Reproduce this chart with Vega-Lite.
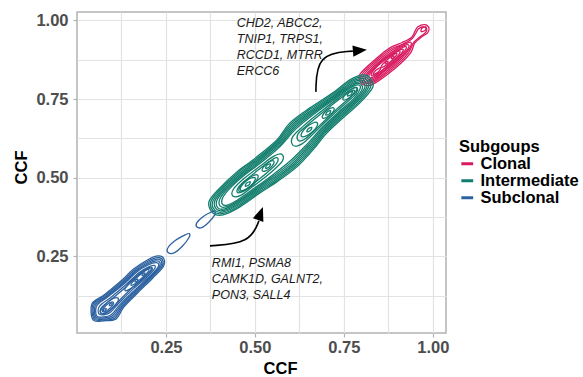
{
  "$schema": "https://vega.github.io/schema/vega-lite/v6.json",
  "width": 369,
  "height": 321,
  "autosize": {"type": "none"},
  "padding": {"left": 77, "top": 12, "right": 137, "bottom": 44},
  "background": "white",
  "config": {
    "view": {"stroke": "#B3B3B3", "strokeWidth": 1.5},
    "font": "Liberation Sans"
  },
  "datasets": {
    "pink": [
      {"c":"K1","x":0.800,"y":0.800},{"c":"K1","x":0.795,"y":0.829},{"c":"K1","x":0.847,"y":0.885},{"c":"K1","x":0.884,"y":0.916},{"c":"K1","x":0.914,"y":0.930},{"c":"K1","x":0.940,"y":0.946},{"c":"K1","x":0.950,"y":0.966},{"c":"K1","x":0.958,"y":0.980},{"c":"K1","x":0.977,"y":0.987},{"c":"K1","x":0.989,"y":0.977},{"c":"K1","x":0.9855,"y":0.9605},{"c":"K1","x":0.969,"y":0.948},{"c":"K1","x":0.9495,"y":0.9285},{"c":"K1","x":0.938,"y":0.898},{"c":"K1","x":0.911,"y":0.865},{"c":"K1","x":0.874,"y":0.830},{"c":"K1","x":0.836,"y":0.800},{"c":"K1","x":0.817,"y":0.793},
      {"c":"K2","x":0.805,"y":0.803},{"c":"K2","x":0.801,"y":0.829},{"c":"K2","x":0.850,"y":0.882},{"c":"K2","x":0.885,"y":0.911},{"c":"K2","x":0.913,"y":0.923},{"c":"K2","x":0.940,"y":0.940},{"c":"K2","x":0.953,"y":0.961},{"c":"K2","x":0.960,"y":0.974},{"c":"K2","x":0.974,"y":0.980},{"c":"K2","x":0.983,"y":0.973},{"c":"K2","x":0.979,"y":0.961},{"c":"K2","x":0.964,"y":0.948},{"c":"K2","x":0.946,"y":0.930},{"c":"K2","x":0.932,"y":0.898},{"c":"K2","x":0.906,"y":0.866},{"c":"K2","x":0.871,"y":0.833},{"c":"K2","x":0.835,"y":0.805},
      {"c":"K2b","x":0.810,"y":0.806},{"c":"K2b","x":0.807,"y":0.829},{"c":"K2b","x":0.853,"y":0.879},{"c":"K2b","x":0.887,"y":0.907},{"c":"K2b","x":0.917,"y":0.923},{"c":"K2b","x":0.937,"y":0.931},{"c":"K2b","x":0.938,"y":0.918},{"c":"K2b","x":0.927,"y":0.899},{"c":"K2b","x":0.902,"y":0.868},{"c":"K2b","x":0.868,"y":0.836},{"c":"K2b","x":0.835,"y":0.809},
      {"c":"K3","x":0.814,"y":0.810},{"c":"K3","x":0.813,"y":0.829},{"c":"K3","x":0.856,"y":0.876},{"c":"K3","x":0.889,"y":0.903},{"c":"K3","x":0.917,"y":0.919},{"c":"K3","x":0.931,"y":0.923},{"c":"K3","x":0.930,"y":0.910},{"c":"K3","x":0.900,"y":0.872},{"c":"K3","x":0.865,"y":0.839},{"c":"K3","x":0.835,"y":0.813},
      {"c":"K3b","x":0.818,"y":0.814},{"c":"K3b","x":0.819,"y":0.831},{"c":"K3b","x":0.858,"y":0.874},{"c":"K3b","x":0.890,"y":0.900},{"c":"K3b","x":0.913,"y":0.913},{"c":"K3b","x":0.925,"y":0.917},{"c":"K3b","x":0.921,"y":0.903},{"c":"K3b","x":0.897,"y":0.873},{"c":"K3b","x":0.863,"y":0.841},{"c":"K3b","x":0.836,"y":0.818},
      {"c":"K4","x":0.822,"y":0.818},{"c":"K4","x":0.824,"y":0.832},{"c":"K4","x":0.860,"y":0.872},{"c":"K4","x":0.891,"y":0.897},{"c":"K4","x":0.915,"y":0.909},{"c":"K4","x":0.913,"y":0.897},{"c":"K4","x":0.894,"y":0.874},{"c":"K4","x":0.861,"y":0.843},{"c":"K4","x":0.836,"y":0.822},
      {"c":"K5","x":0.828,"y":0.824},{"c":"K5","x":0.832,"y":0.840},{"c":"K5","x":0.861,"y":0.871},{"c":"K5","x":0.890,"y":0.894},{"c":"K5","x":0.907,"y":0.903},{"c":"K5","x":0.903,"y":0.889},{"c":"K5","x":0.878,"y":0.862},{"c":"K5","x":0.847,"y":0.833},
      {"c":"K6","x":0.855,"y":0.851},{"c":"K6","x":0.8588,"y":0.8604},{"c":"K6","x":0.873,"y":0.877},{"c":"K6","x":0.8896,"y":0.8912},{"c":"K6","x":0.899,"y":0.895},{"c":"K6","x":0.8952,"y":0.8856},{"c":"K6","x":0.881,"y":0.869},{"c":"K6","x":0.8644,"y":0.8548},
      {"c":"K6b","x":0.832,"y":0.828},{"c":"K6b","x":0.840,"y":0.842},{"c":"K6b","x":0.854,"y":0.850},{"c":"K6b","x":0.846,"y":0.836},
      {"c":"K7a","x":0.866,"y":0.862},{"c":"K7a","x":0.868,"y":0.868},{"c":"K7a","x":0.874,"y":0.870},{"c":"K7a","x":0.872,"y":0.864},
      {"c":"K7b","x":0.883,"y":0.879},{"c":"K7b","x":0.885,"y":0.885},{"c":"K7b","x":0.891,"y":0.887},{"c":"K7b","x":0.889,"y":0.881},
      {"c":"K8","x":0.967,"y":0.965},{"c":"K8","x":0.970,"y":0.976},{"c":"K8","x":0.981,"y":0.979},{"c":"K8","x":0.978,"y":0.968}
    ],
    "green": [
      {"c":"G1","x":0.3708,"y":0.4230},{"c":"G1","x":0.4017,"y":0.4676},{"c":"G1","x":0.4494,"y":0.5185},{"c":"G1","x":0.4944,"y":0.5566},{"c":"G1","x":0.5618,"y":0.6202},{"c":"G1","x":0.5983,"y":0.6743},{"c":"G1","x":0.6545,"y":0.7220},{"c":"G1","x":0.7191,"y":0.7697},{"c":"G1","x":0.7669,"y":0.811},{"c":"G1","x":0.8034,"y":0.827},{"c":"G1","x":0.823,"y":0.8174},{"c":"G1","x":0.8315,"y":0.7888},{"c":"G1","x":0.795,"y":0.738},{"c":"G1","x":0.7472,"y":0.690},{"c":"G1","x":0.7023,"y":0.6425},{"c":"G1","x":0.663,"y":0.5884},{"c":"G1","x":0.618,"y":0.5344},{"c":"G1","x":0.5618,"y":0.4866},{"c":"G1","x":0.514,"y":0.4517},{"c":"G1","x":0.4579,"y":0.4071},{"c":"G1","x":0.4101,"y":0.3817},{"c":"G1","x":0.382,"y":0.388},
      {"c":"G1b","x":0.385,"y":0.392},{"c":"G1b","x":0.376,"y":0.423},{"c":"G1b","x":0.404,"y":0.465},{"c":"G1b","x":0.452,"y":0.516},{"c":"G1b","x":0.497,"y":0.554},{"c":"G1b","x":0.564,"y":0.618},{"c":"G1b","x":0.601,"y":0.671},{"c":"G1b","x":0.657,"y":0.719},{"c":"G1b","x":0.7215,"y":0.767},{"c":"G1b","x":0.7695,"y":0.8085},{"c":"G1b","x":0.8017,"y":0.8215},{"c":"G1b","x":0.819,"y":0.813},{"c":"G1b","x":0.825,"y":0.788},{"c":"G1b","x":0.792,"y":0.7405},{"c":"G1b","x":0.7446,"y":0.693},{"c":"G1b","x":0.6997,"y":0.6448},{"c":"G1b","x":0.6605,"y":0.591},{"c":"G1b","x":0.615,"y":0.537},{"c":"G1b","x":0.559,"y":0.489},{"c":"G1b","x":0.5115,"y":0.4544},{"c":"G1b","x":0.4555,"y":0.410},{"c":"G1b","x":0.4105,"y":0.3864},
      {"c":"G2","x":0.388,"y":0.396},{"c":"G2","x":0.381,"y":0.423},{"c":"G2","x":0.407,"y":0.463},{"c":"G2","x":0.455,"y":0.513},{"c":"G2","x":0.500,"y":0.552},{"c":"G2","x":0.566,"y":0.616},{"c":"G2","x":0.604,"y":0.668},{"c":"G2","x":0.660,"y":0.716},{"c":"G2","x":0.724,"y":0.764},{"c":"G2","x":0.772,"y":0.806},{"c":"G2","x":0.800,"y":0.816},{"c":"G2","x":0.815,"y":0.809},{"c":"G2","x":0.819,"y":0.787},{"c":"G2","x":0.789,"y":0.743},{"c":"G2","x":0.742,"y":0.696},{"c":"G2","x":0.697,"y":0.647},{"c":"G2","x":0.658,"y":0.594},{"c":"G2","x":0.612,"y":0.540},{"c":"G2","x":0.556,"y":0.492},{"c":"G2","x":0.509,"y":0.457},{"c":"G2","x":0.453,"y":0.413},{"c":"G2","x":0.411,"y":0.391},
      {"c":"G2b","x":0.392,"y":0.400},{"c":"G2b","x":0.387,"y":0.425},{"c":"G2b","x":0.4105,"y":0.4615},{"c":"G2b","x":0.4575,"y":0.5105},{"c":"G2b","x":0.5025,"y":0.5495},{"c":"G2b","x":0.5685,"y":0.6135},{"c":"G2b","x":0.607,"y":0.665},{"c":"G2b","x":0.6625,"y":0.7135},{"c":"G2b","x":0.726,"y":0.762},{"c":"G2b","x":0.773,"y":0.802},{"c":"G2b","x":0.7975,"y":0.8105},{"c":"G2b","x":0.8105,"y":0.8045},{"c":"G2b","x":0.8135,"y":0.7855},{"c":"G2b","x":0.7865,"y":0.7455},{"c":"G2b","x":0.7395,"y":0.6985},{"c":"G2b","x":0.6945,"y":0.6495},{"c":"G2b","x":0.655,"y":0.597},{"c":"G2b","x":0.609,"y":0.543},{"c":"G2b","x":0.553,"y":0.495},{"c":"G2b","x":0.5065,"y":0.4595},{"c":"G2b","x":0.4515,"y":0.4165},{"c":"G2b","x":0.413,"y":0.396},
      {"c":"G3","x":0.396,"y":0.404},{"c":"G3","x":0.393,"y":0.427},{"c":"G3","x":0.414,"y":0.460},{"c":"G3","x":0.460,"y":0.508},{"c":"G3","x":0.505,"y":0.547},{"c":"G3","x":0.571,"y":0.611},{"c":"G3","x":0.610,"y":0.662},{"c":"G3","x":0.665,"y":0.711},{"c":"G3","x":0.728,"y":0.760},{"c":"G3","x":0.774,"y":0.798},{"c":"G3","x":0.795,"y":0.805},{"c":"G3","x":0.806,"y":0.800},{"c":"G3","x":0.808,"y":0.784},{"c":"G3","x":0.784,"y":0.748},{"c":"G3","x":0.737,"y":0.701},{"c":"G3","x":0.692,"y":0.652},{"c":"G3","x":0.652,"y":0.600},{"c":"G3","x":0.606,"y":0.546},{"c":"G3","x":0.550,"y":0.498},{"c":"G3","x":0.504,"y":0.462},{"c":"G3","x":0.450,"y":0.420},{"c":"G3","x":0.415,"y":0.401},
      {"c":"G3b","x":0.4025,"y":0.4095},{"c":"G3b","x":0.401,"y":0.431},{"c":"G3b","x":0.4205,"y":0.4615},{"c":"G3b","x":0.4625,"y":0.5055},{"c":"G3b","x":0.5075,"y":0.5445},{"c":"G3b","x":0.5685,"y":0.6025},{"c":"G3b","x":0.613,"y":0.659},{"c":"G3b","x":0.6675,"y":0.7085},{"c":"G3b","x":0.730,"y":0.758},{"c":"G3b","x":0.773,"y":0.793},{"c":"G3b","x":0.793,"y":0.800},{"c":"G3b","x":0.802,"y":0.784},{"c":"G3b","x":0.7815,"y":0.7505},{"c":"G3b","x":0.7345,"y":0.7035},{"c":"G3b","x":0.6895,"y":0.6545},{"c":"G3b","x":0.649,"y":0.603},{"c":"G3b","x":0.6025,"y":0.5495},{"c":"G3b","x":0.547,"y":0.501},{"c":"G3b","x":0.5015,"y":0.4645},{"c":"G3b","x":0.4505,"y":0.4245},{"c":"G3b","x":0.419,"y":0.407},
      {"c":"G4","x":0.409,"y":0.415},{"c":"G4","x":0.409,"y":0.435},{"c":"G4","x":0.427,"y":0.463},{"c":"G4","x":0.465,"y":0.503},{"c":"G4","x":0.510,"y":0.542},{"c":"G4","x":0.566,"y":0.594},{"c":"G4","x":0.616,"y":0.656},{"c":"G4","x":0.670,"y":0.706},{"c":"G4","x":0.732,"y":0.756},{"c":"G4","x":0.772,"y":0.788},{"c":"G4","x":0.791,"y":0.795},{"c":"G4","x":0.796,"y":0.784},{"c":"G4","x":0.779,"y":0.753},{"c":"G4","x":0.732,"y":0.706},{"c":"G4","x":0.687,"y":0.657},{"c":"G4","x":0.646,"y":0.606},{"c":"G4","x":0.599,"y":0.553},{"c":"G4","x":0.544,"y":0.504},{"c":"G4","x":0.499,"y":0.467},{"c":"G4","x":0.451,"y":0.429},{"c":"G4","x":0.423,"y":0.413},
      {"c":"G5a","x":0.438,"y":0.442},{"c":"G5a","x":0.440,"y":0.464},{"c":"G5a","x":0.470,"y":0.498},{"c":"G5a","x":0.515,"y":0.537},{"c":"G5a","x":0.552,"y":0.568},{"c":"G5a","x":0.575,"y":0.575},{"c":"G5a","x":0.577,"y":0.553},{"c":"G5a","x":0.538,"y":0.510},{"c":"G5a","x":0.494,"y":0.472},{"c":"G5a","x":0.460,"y":0.444},
      {"c":"G5b","x":0.606,"y":0.604},{"c":"G5b","x":0.606,"y":0.630},{"c":"G5b","x":0.636,"y":0.664},{"c":"G5b","x":0.675,"y":0.701},{"c":"G5b","x":0.735,"y":0.753},{"c":"G5b","x":0.773,"y":0.783},{"c":"G5b","x":0.788,"y":0.784},{"c":"G5b","x":0.779,"y":0.761},{"c":"G5b","x":0.728,"y":0.710},{"c":"G5b","x":0.683,"y":0.661},{"c":"G5b","x":0.643,"y":0.617},{"c":"G5b","x":0.622,"y":0.602},
      {"c":"G6a","x":0.451,"y":0.453},{"c":"G6a","x":0.454,"y":0.470},{"c":"G6a","x":0.475,"y":0.493},{"c":"G6a","x":0.519,"y":0.533},{"c":"G6a","x":0.551,"y":0.559},{"c":"G6a","x":0.564,"y":0.562},{"c":"G6a","x":0.560,"y":0.544},{"c":"G6a","x":0.533,"y":0.515},{"c":"G6a","x":0.490,"y":0.476},{"c":"G6a","x":0.466,"y":0.456},
      {"c":"G6b","x":0.621,"y":0.619},{"c":"G6b","x":0.621,"y":0.639},{"c":"G6b","x":0.645,"y":0.665},{"c":"G6b","x":0.679,"y":0.697},{"c":"G6b","x":0.738,"y":0.750},{"c":"G6b","x":0.769,"y":0.775},{"c":"G6b","x":0.780,"y":0.776},{"c":"G6b","x":0.771,"y":0.759},{"c":"G6b","x":0.725,"y":0.713},{"c":"G6b","x":0.680,"y":0.664},{"c":"G6b","x":0.647,"y":0.629},{"c":"G6b","x":0.632,"y":0.618},
      {"c":"P1b","x":0.456,"y":0.456},{"c":"P1b","x":0.4578,"y":0.4698},{"c":"P1b","x":0.4735,"y":0.4905},{"c":"P1b","x":0.4942,"y":0.5062},{"c":"P1b","x":0.508,"y":0.508},{"c":"P1b","x":0.5062,"y":0.4942},{"c":"P1b","x":0.4905,"y":0.4735},{"c":"P1b","x":0.4698,"y":0.4578},
      {"c":"P1","x":0.460,"y":0.460},{"c":"P1","x":0.461,"y":0.471},{"c":"P1","x":0.473,"y":0.487},{"c":"P1","x":0.489,"y":0.499},{"c":"P1","x":0.500,"y":0.500},{"c":"P1","x":0.499,"y":0.489},{"c":"P1","x":0.487,"y":0.473},{"c":"P1","x":0.471,"y":0.461},
      {"c":"P2","x":0.521,"y":0.521},{"c":"P2","x":0.5216,"y":0.530},{"c":"P2","x":0.531,"y":0.543},{"c":"P2","x":0.544,"y":0.5524},{"c":"P2","x":0.553,"y":0.553},{"c":"P2","x":0.5524,"y":0.544},{"c":"P2","x":0.543,"y":0.531},{"c":"P2","x":0.530,"y":0.5216},
      {"c":"P3","x":0.631,"y":0.631},{"c":"P3","x":0.632,"y":0.643},{"c":"P3","x":0.645,"y":0.661},{"c":"P3","x":0.6628,"y":0.674},{"c":"P3","x":0.675,"y":0.675},{"c":"P3","x":0.674,"y":0.6628},{"c":"P3","x":0.661,"y":0.645},{"c":"P3","x":0.643,"y":0.632},
      {"c":"P4","x":0.690,"y":0.690},{"c":"P4","x":0.6906,"y":0.699},{"c":"P4","x":0.700,"y":0.712},{"c":"P4","x":0.713,"y":0.7214},{"c":"P4","x":0.722,"y":0.722},{"c":"P4","x":0.7214,"y":0.713},{"c":"P4","x":0.712,"y":0.700},{"c":"P4","x":0.699,"y":0.6906},
      {"c":"P5","x":0.748,"y":0.748},{"c":"P5","x":0.7495,"y":0.7579},{"c":"P5","x":0.761,"y":0.773},{"c":"P5","x":0.7761,"y":0.7845},{"c":"P5","x":0.786,"y":0.786},{"c":"P5","x":0.7845,"y":0.7761},{"c":"P5","x":0.773,"y":0.761},{"c":"P5","x":0.7579,"y":0.7495},
      {"c":"Q1","x":0.473,"y":0.473},{"c":"Q1","x":0.477,"y":0.483},{"c":"Q1","x":0.487,"y":0.487},{"c":"Q1","x":0.483,"y":0.477},
      {"c":"Q2","x":0.530,"y":0.530},{"c":"Q2","x":0.534,"y":0.540},{"c":"Q2","x":0.544,"y":0.544},{"c":"Q2","x":0.540,"y":0.534},
      {"c":"Q3","x":0.646,"y":0.646},{"c":"Q3","x":0.650,"y":0.656},{"c":"Q3","x":0.660,"y":0.660},{"c":"Q3","x":0.656,"y":0.650},
      {"c":"Q4","x":0.699,"y":0.699},{"c":"Q4","x":0.703,"y":0.709},{"c":"Q4","x":0.713,"y":0.713},{"c":"Q4","x":0.709,"y":0.703},
      {"c":"Q5","x":0.760,"y":0.760},{"c":"Q5","x":0.764,"y":0.770},{"c":"Q5","x":0.774,"y":0.774},{"c":"Q5","x":0.770,"y":0.764}
    ],
    "blue": [
      {"c":"B1","x":0.045,"y":0.048},{"c":"B1","x":0.042,"y":0.099},{"c":"B1","x":0.076,"y":0.127},{"c":"B1","x":0.121,"y":0.169},{"c":"B1","x":0.160,"y":0.210},{"c":"B1","x":0.199,"y":0.239},{"c":"B1","x":0.228,"y":0.251},{"c":"B1","x":0.244,"y":0.242},{"c":"B1","x":0.242,"y":0.216},{"c":"B1","x":0.213,"y":0.181},{"c":"B1","x":0.171,"y":0.134},{"c":"B1","x":0.132,"y":0.089},{"c":"B1","x":0.110,"y":0.051},{"c":"B1","x":0.076,"y":0.045},
      {"c":"B1b","x":0.0475,"y":0.051},{"c":"B1b","x":0.045,"y":0.0975},{"c":"B1b","x":0.0785,"y":0.125},{"c":"B1b","x":0.1235,"y":0.1665},{"c":"B1b","x":0.1625,"y":0.2075},{"c":"B1b","x":0.200,"y":0.235},{"c":"B1b","x":0.2265,"y":0.246},{"c":"B1b","x":0.2405,"y":0.2385},{"c":"B1b","x":0.2385,"y":0.2165},{"c":"B1b","x":0.210,"y":0.182},{"c":"B1b","x":0.1685,"y":0.136},{"c":"B1b","x":0.1295,"y":0.091},{"c":"B1b","x":0.1065,"y":0.054},{"c":"B1b","x":0.075,"y":0.0475},
      {"c":"B2","x":0.050,"y":0.054},{"c":"B2","x":0.048,"y":0.096},{"c":"B2","x":0.081,"y":0.123},{"c":"B2","x":0.126,"y":0.164},{"c":"B2","x":0.165,"y":0.205},{"c":"B2","x":0.201,"y":0.231},{"c":"B2","x":0.225,"y":0.241},{"c":"B2","x":0.237,"y":0.235},{"c":"B2","x":0.235,"y":0.217},{"c":"B2","x":0.207,"y":0.183},{"c":"B2","x":0.166,"y":0.138},{"c":"B2","x":0.127,"y":0.093},{"c":"B2","x":0.103,"y":0.057},{"c":"B2","x":0.074,"y":0.050},
      {"c":"B2b","x":0.0525,"y":0.0575},{"c":"B2b","x":0.052,"y":0.095},{"c":"B2b","x":0.0845,"y":0.1225},{"c":"B2b","x":0.128,"y":0.162},{"c":"B2b","x":0.167,"y":0.203},{"c":"B2b","x":0.201,"y":0.227},{"c":"B2b","x":0.2235,"y":0.2355},{"c":"B2b","x":0.2335,"y":0.2295},{"c":"B2b","x":0.230,"y":0.214},{"c":"B2b","x":0.203,"y":0.182},{"c":"B2b","x":0.163,"y":0.139},{"c":"B2b","x":0.1245,"y":0.0955},{"c":"B2b","x":0.0995,"y":0.0605},{"c":"B2b","x":0.0735,"y":0.0535},
      {"c":"B3","x":0.055,"y":0.061},{"c":"B3","x":0.056,"y":0.094},{"c":"B3","x":0.088,"y":0.122},{"c":"B3","x":0.130,"y":0.160},{"c":"B3","x":0.169,"y":0.201},{"c":"B3","x":0.201,"y":0.223},{"c":"B3","x":0.222,"y":0.230},{"c":"B3","x":0.230,"y":0.224},{"c":"B3","x":0.225,"y":0.211},{"c":"B3","x":0.199,"y":0.181},{"c":"B3","x":0.160,"y":0.140},{"c":"B3","x":0.122,"y":0.098},{"c":"B3","x":0.096,"y":0.064},{"c":"B3","x":0.073,"y":0.057},
      {"c":"B4","x":0.061,"y":0.067},{"c":"B4","x":0.064,"y":0.092},{"c":"B4","x":0.096,"y":0.120},{"c":"B4","x":0.134,"y":0.156},{"c":"B4","x":0.173,"y":0.197},{"c":"B4","x":0.200,"y":0.216},{"c":"B4","x":0.217,"y":0.221},{"c":"B4","x":0.218,"y":0.210},{"c":"B4","x":0.194,"y":0.182},{"c":"B4","x":0.156,"y":0.144},{"c":"B4","x":0.120,"y":0.104},{"c":"B4","x":0.093,"y":0.071},{"c":"B4","x":0.076,"y":0.064},
      {"c":"B4b","x":0.066,"y":0.071},{"c":"B4b","x":0.070,"y":0.088},{"c":"B4b","x":0.102,"y":0.118},{"c":"B4b","x":0.138,"y":0.153},{"c":"B4b","x":0.176,"y":0.193},{"c":"B4b","x":0.199,"y":0.210},{"c":"B4b","x":0.211,"y":0.213},{"c":"B4b","x":0.209,"y":0.204},{"c":"B4b","x":0.189,"y":0.183},{"c":"B4b","x":0.152,"y":0.147},{"c":"B4b","x":0.118,"y":0.108},{"c":"B4b","x":0.091,"y":0.076},{"c":"B4b","x":0.078,"y":0.068},
      {"c":"B5a","x":0.135,"y":0.141},{"c":"B5a","x":0.141,"y":0.157},{"c":"B5a","x":0.165,"y":0.185},{"c":"B5a","x":0.193,"y":0.209},{"c":"B5a","x":0.209,"y":0.215},{"c":"B5a","x":0.203,"y":0.199},{"c":"B5a","x":0.179,"y":0.171},{"c":"B5a","x":0.151,"y":0.147},
      {"c":"B5b","x":0.067,"y":0.069},{"c":"B5b","x":0.068,"y":0.082},{"c":"B5b","x":0.083,"y":0.101},{"c":"B5b","x":0.102,"y":0.116},{"c":"B5b","x":0.115,"y":0.117},{"c":"B5b","x":0.114,"y":0.104},{"c":"B5b","x":0.099,"y":0.085},{"c":"B5b","x":0.080,"y":0.070},
      {"c":"B6a","x":0.152,"y":0.158},{"c":"B6a","x":0.156,"y":0.168},{"c":"B6a","x":0.173,"y":0.187},{"c":"B6a","x":0.192,"y":0.204},{"c":"B6a","x":0.202,"y":0.208},{"c":"B6a","x":0.198,"y":0.198},{"c":"B6a","x":0.181,"y":0.179},{"c":"B6a","x":0.162,"y":0.162},
      {"c":"B6b","x":0.072,"y":0.074},{"c":"B6b","x":0.073,"y":0.083},{"c":"B6b","x":0.082,"y":0.094},{"c":"B6b","x":0.093,"y":0.103},{"c":"B6b","x":0.102,"y":0.104},{"c":"B6b","x":0.101,"y":0.095},{"c":"B6b","x":0.092,"y":0.084},{"c":"B6b","x":0.081,"y":0.075},
      {"c":"D1","x":0.074,"y":0.076},{"c":"D1","x":0.076,"y":0.082},{"c":"D1","x":0.082,"y":0.084},{"c":"D1","x":0.080,"y":0.078},
      {"c":"D2","x":0.091,"y":0.093},{"c":"D2","x":0.093,"y":0.099},{"c":"D2","x":0.099,"y":0.101},{"c":"D2","x":0.097,"y":0.095},
      {"c":"D3","x":0.163,"y":0.169},{"c":"D3","x":0.165,"y":0.175},{"c":"D3","x":0.171,"y":0.177},{"c":"D3","x":0.169,"y":0.171},
      {"c":"D4","x":0.183,"y":0.189},{"c":"D4","x":0.185,"y":0.195},{"c":"D4","x":0.191,"y":0.197},{"c":"D4","x":0.189,"y":0.191},
      {"c":"E1","x":0.256,"y":0.262},{"c":"E1","x":0.256,"y":0.278},{"c":"E1","x":0.277,"y":0.301},{"c":"E1","x":0.304,"y":0.318},{"c":"E1","x":0.316,"y":0.322},{"c":"E1","x":0.314,"y":0.308},{"c":"E1","x":0.296,"y":0.282},{"c":"E1","x":0.273,"y":0.261},
      {"c":"E2","x":0.337,"y":0.343},{"c":"E2","x":0.337,"y":0.357},{"c":"E2","x":0.354,"y":0.376},{"c":"E2","x":0.376,"y":0.390},{"c":"E2","x":0.387,"y":0.393},{"c":"E2","x":0.386,"y":0.380},{"c":"E2","x":0.371,"y":0.359},{"c":"E2","x":0.352,"y":0.342}
    ],
    "labels": [
      {"x":0.449,"y":1.010,"t":"CHD2, ABCC2,\nTNIP1, TRPS1,\nRCCD1, MTRR,\nERCC6"},
      {"x":0.379,"y":0.2465,"t":"RMI1, PSMA8\nCAMK1D, GALNT2,\nPON3, SALL4"}
    ],
    "arrows": [
      {"a":"up","x":0.6713,"y":0.7729},{"a":"up","x":0.6742,"y":0.8938},{"a":"up","x":0.7753,"y":0.9026},
      {"a":"low","x":0.3736,"y":0.2831},{"a":"low","x":0.486,"y":0.2926},{"a":"low","x":0.5112,"y":0.3625}
    ],
    "heads": [
      {"a":"up","x":0.795,"y":0.9046},
      {"a":"low","x":0.5157,"y":0.3861}
    ]
  },
  "encoding": {
    "x": {
      "field": "x", "type": "quantitative",
      "scale": {"domain": [0, 1.037], "nice": false, "zero": false},
      "axis": {
        "values": [0.125, 0.25, 0.375, 0.5, 0.625, 0.75, 0.875, 1.0],
        "labelExpr": "(datum.value == 0.25 || datum.value == 0.5 || datum.value == 0.75 || datum.value == 1) ? format(datum.value, '.2f') : ''",
        "domain": false,
        "grid": true, "gridColor": "#E3E3E3", "gridWidth": 1.2,
        "tickColor": {"condition": {"test": "datum.value == 0.25 || datum.value == 0.5 || datum.value == 0.75 || datum.value == 1", "value": "#B3B3B3"}, "value": "transparent"},
        "tickSize": 4, "tickWidth": 1.2,
        "labelPadding": 2, "labelFont": "Liberation Sans", "labelFontSize": 16.5, "labelFontWeight": "bold", "labelColor": "#4D4D4D",
        "labelFlush": false, "labelOverlap": false,
        "title": "CCF", "titleFont": "Liberation Sans", "titleFontSize": 16.5, "titleFontWeight": "bold", "titleColor": "#000000",
        "titleX": 203, "titleY": 35, "titleBaseline": "middle", "titleAlign": "center"
      }
    },
    "y": {
      "field": "y", "type": "quantitative",
      "scale": {"domain": [0.006, 1.027], "nice": false, "zero": false},
      "axis": {
        "values": [0.125, 0.25, 0.375, 0.5, 0.625, 0.75, 0.875, 1.0],
        "labelExpr": "(datum.value == 0.25 || datum.value == 0.5 || datum.value == 0.75 || datum.value == 1) ? format(datum.value, '.2f') : ''",
        "domain": false,
        "grid": true, "gridColor": "#E3E3E3", "gridWidth": 1.2,
        "tickColor": {"condition": {"test": "datum.value == 0.25 || datum.value == 0.5 || datum.value == 0.75 || datum.value == 1", "value": "#B3B3B3"}, "value": "transparent"},
        "tickSize": 4, "tickWidth": 1.2,
        "labelPadding": 5, "labelFont": "Liberation Sans", "labelFontSize": 16.5, "labelFontWeight": "bold", "labelColor": "#4D4D4D",
        "labelFlush": false, "labelOverlap": false,
        "title": "CCF", "titleFont": "Liberation Sans", "titleFontSize": 16.5, "titleFontWeight": "bold", "titleColor": "#000000",
        "titleX": -56, "titleY": 155, "titleBaseline": "middle", "titleAlign": "center", "titleAngle": -90
      }
    }
  },
  "layer": [
    {
      "data": {"name": "pink"},
      "mark": {"type": "line", "interpolate": "cardinal-closed", "strokeWidth": 1.3},
      "encoding": {
        "detail": {"field": "c"},
        "order": {"value": null},
        "color": {
          "datum": "Clonal", "type": "nominal",
          "scale": {"domain": ["Clonal", "Intermediate", "Subclonal"], "range": ["#D81B60", "#117D6C", "#2D62A0"]},
          "legend": {
            "orient": "none", "legendX": 382, "legendY": 127, "padding": 0,
            "title": "Subgoups", "titleFont": "Liberation Sans", "titleFontSize": 16.5, "titleFontWeight": "bold", "titleColor": "#000000", "titlePadding": 0,
            "labelFont": "Liberation Sans", "labelFontSize": 16.5, "labelFontWeight": "bold", "labelColor": "#000000", "labelOffset": 5,
            "symbolType": "stroke", "symbolStrokeWidth": 3, "symbolSize": 140, "rowPadding": 0
          }
        }
      }
    },
    {
      "data": {"name": "green"},
      "mark": {"type": "line", "interpolate": "cardinal-closed", "strokeWidth": 1.3},
      "encoding": {
        "detail": {"field": "c"},
        "order": {"value": null},
        "color": {"datum": "Intermediate", "type": "nominal"}
      }
    },
    {
      "data": {"name": "blue"},
      "mark": {"type": "line", "interpolate": "cardinal-closed", "strokeWidth": 1.3},
      "encoding": {
        "detail": {"field": "c"},
        "order": {"value": null},
        "color": {"datum": "Subclonal", "type": "nominal"}
      }
    },
    {
      "data": {"name": "arrows"},
      "mark": {"type": "line", "interpolate": "basis", "strokeWidth": 1.6, "color": "#000000"},
      "encoding": {
        "detail": {"field": "a"},
        "order": {"value": null}
      }
    },
    {
      "data": {"name": "heads"},
      "transform": [{"filter": "datum.a == 'up'"}],
      "mark": {"type": "point", "shape": "M-1,-0.8L1,0L-1,0.8Z", "filled": true, "color": "#000000", "size": 196, "angle": 355, "opacity": 1}
    },
    {
      "data": {"name": "heads"},
      "transform": [{"filter": "datum.a == 'low'"}],
      "mark": {"type": "point", "shape": "M-1,-0.8L1,0L-1,0.8Z", "filled": true, "color": "#000000", "size": 196, "angle": 290, "opacity": 1}
    },
    {
      "data": {"name": "labels"},
      "mark": {"type": "text", "align": "left", "baseline": "top", "lineBreak": "\n", "lineHeight": 16, "font": "Liberation Sans", "fontStyle": "italic", "fontSize": 12.5, "color": "#1A1A1A"},
      "encoding": {
        "text": {"field": "t"}
      }
    }
  ]
}
